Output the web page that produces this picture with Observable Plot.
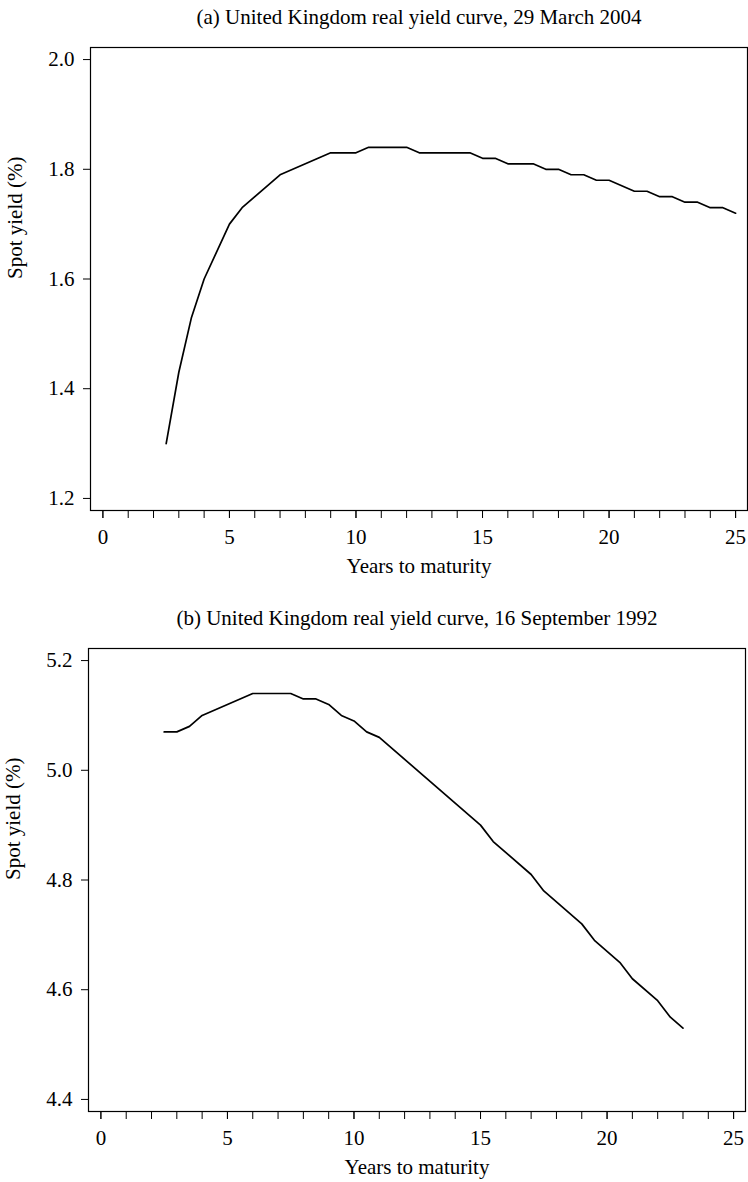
<!DOCTYPE html>
<html><head><meta charset="utf-8">
<script src="https://cdn.jsdelivr.net/npm/d3@7"></script>
<script src="https://cdn.jsdelivr.net/npm/@observablehq/plot@0.6"></script>
<style>
html,body{margin:0;padding:0;background:#fff;overflow:hidden;width:748px;height:1182px;}
.panel{position:absolute;}
</style></head><body>
<div id="a" class="panel" style="left:0;top:0"></div>
<div id="b" class="panel" style="left:-2px;top:601px"></div>
<script>
const titleA = "(a) United Kingdom real yield curve, 29 March 2004";
const titleB = "(b) United Kingdom real yield curve, 16 September 1992";
const xLabel = "Years to maturity";
const yLabel = "Spot yield (%)";

const maturityA = [2.5, 3, 3.5, 4, 5, 5.5, 7, 8, 9, 10, 10.5, 12, 12.5, 14.5, 15, 15.5, 16, 17, 17.5, 18, 18.5, 19, 19.5, 20, 21, 21.5, 22, 22.5, 23, 23.5, 24, 24.5, 25];
const yieldA    = [1.30, 1.43, 1.53, 1.60, 1.70, 1.73, 1.79, 1.81, 1.83, 1.83, 1.84, 1.84, 1.83, 1.83, 1.82, 1.82, 1.81, 1.81, 1.80, 1.80, 1.79, 1.79, 1.78, 1.78, 1.76, 1.76, 1.75, 1.75, 1.74, 1.74, 1.73, 1.73, 1.72];

const maturityB = [2.5, 3, 3.5, 4, 6, 7.5, 8, 8.5, 9, 9.5, 10, 10.5, 11, 15, 15.5, 17, 17.5, 19, 19.5, 20.5, 21, 22, 22.5, 23];
const yieldB    = [5.07, 5.07, 5.08, 5.10, 5.14, 5.14, 5.13, 5.13, 5.12, 5.10, 5.09, 5.07, 5.06, 4.90, 4.87, 4.81, 4.78, 4.72, 4.69, 4.65, 4.62, 4.58, 4.55, 4.53];

const xTicks = [0, 5, 10, 15, 20, 25];
const xMinorTicks = [0,1,2,3,4,5,6,7,8,9,10,11,12,13,14,15,16,17,18,19,20,21,22,23,24,25];
const yTicksA = [1.2, 1.4, 1.6, 1.8, 2.0];
const yTicksB = [4.4, 4.6, 4.8, 5.0, 5.2];

const FONT = "'Liberation Serif', 'Times New Roman', serif";

function panel(title, xs, ys, yDomain, yTicks, height) {
  const data = xs.map((x, i) => ({x, y: ys[i]}));
  return Plot.plot({
    width: 748,
    height,
    marginLeft: 90,
    marginRight: 1,
    marginTop: 47,
    marginBottom: height - 47 - 463,
    style: {fontFamily: FONT, fontSize: "21px", color: "#000", background: "#fff", overflow: "visible"},
    x: {domain: [-0.49, 25.47]},
    y: {domain: yDomain},
    marks: [
      Plot.axisX(xMinorTicks, {tickSize: 8, tickFormat: () => "", label: null, stroke: "#000"}),
      Plot.axisX(xTicks, {tickSize: 8, tickPadding: 11, tickFormat: d => String(d), label: null, fontSize: 21, stroke: "#000"}),
      Plot.axisY(yTicks, {tickSize: 7, tickPadding: 9, tickFormat: d3.format(".1f"), label: null, fontSize: 21, stroke: "#000"}),
      Plot.frame({stroke: "#000", strokeWidth: 1.2}),
      Plot.line(data, {x: "x", y: "y", stroke: "#000", strokeWidth: 1.7}),
      Plot.text([title], {text: d => d, frameAnchor: "top", dy: -38, fontSize: 21, fill: "#000"}),
      Plot.text([xLabel], {text: d => d, frameAnchor: "bottom", dy: 62, fontSize: 21, fill: "#000"}),
      Plot.text([yLabel], {text: d => d, frameAnchor: "left", rotate: -90, dx: -75, fontSize: 21, fill: "#000"})
    ]
  });
}

document.getElementById("a").append(panel(titleA, maturityA, yieldA, [1.178, 2.022], yTicksA, 600));
document.getElementById("b").append(panel(titleB, maturityB, yieldB, [4.378, 5.222], yTicksB, 581));
</script>
</body></html>
